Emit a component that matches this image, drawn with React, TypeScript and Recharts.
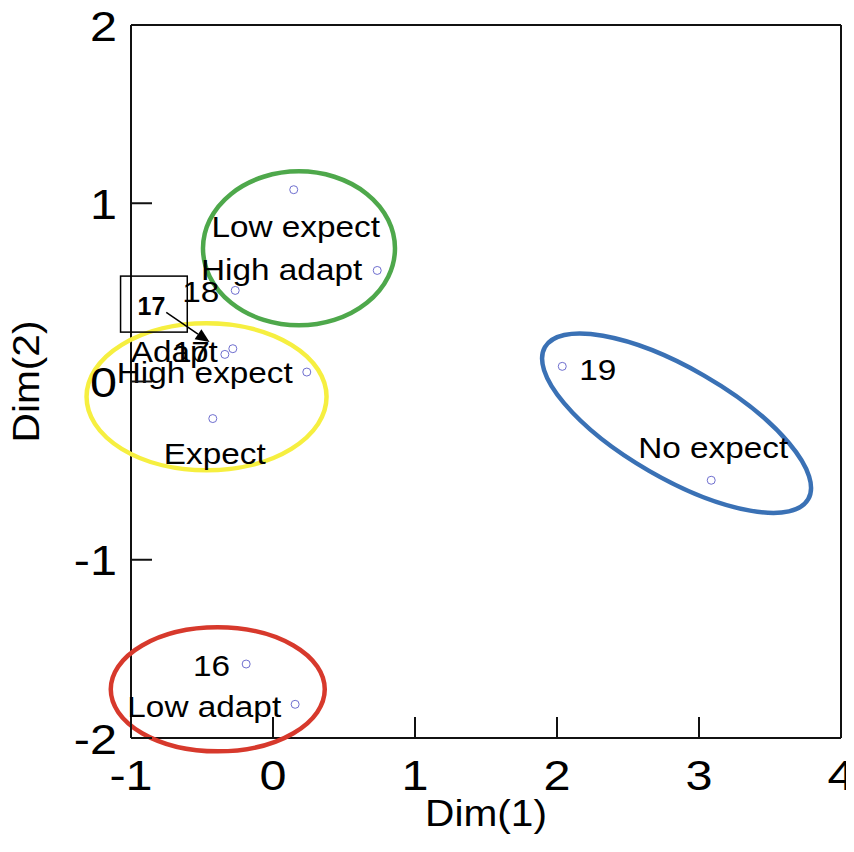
import { Label, ReferenceLine, Scatter, ScatterChart, XAxis, YAxis } from "recharts"

// points of the map
const pointNames = ["Low expect", "High adapt", "18", "Adapt", "17", "High expect", "Expect", "19", "No expect", "16", "Low adapt"]
const dim1 = [0.146, 0.734, -0.266, -0.283, -0.339, 0.238, -0.424, 2.037, 3.086, -0.189, 0.156]
const dim2 = [1.076, 0.623, 0.511, 0.184, 0.152, 0.053, -0.208, 0.085, -0.554, -1.585, -1.811]

// cluster ellipse centres
const groupNames = ["green", "yellow", "red", "blue"]
const groupDim1 = [0.183, -0.468, -0.389, 2.842]
const groupDim2 = [0.747, -0.086, -1.727, -0.234]

const xTicks = [-1, 0, 1, 2, 3, 4]
const yTicks = [-2, -1, 0, 1, 2]

const points = pointNames.map((name, i) => ({ name, x: dim1[i], y: dim2[i] }))
const groups = groupNames.map((name, i) => ({ name, x: groupDim1[i], y: groupDim2[i] }))

const FONT = "'Liberation Sans', Arial, sans-serif"
const STRETCH = 1.13

const labelStyle: Record<string, { anchor: "start" | "middle" | "end"; dx: number; dy: number }> = {
  "Low expect": { anchor: "middle", dx: 2, dy: 47 },
  "High adapt": { anchor: "end", dx: -15, dy: 10 },
  "18": { anchor: "end", dx: -16, dy: 12 },
  Adapt: { anchor: "end", dx: -15, dy: 13 },
  "17": { anchor: "end", dx: -15, dy: 8 },
  "High expect": { anchor: "end", dx: -14, dy: 11 },
  Expect: { anchor: "middle", dx: 2, dy: 45 },
  "19": { anchor: "start", dx: 17, dy: 14 },
  "No expect": { anchor: "middle", dx: 2, dy: -22 },
  "16": { anchor: "end", dx: -16, dy: 12 },
  "Low adapt": { anchor: "end", dx: -14, dy: 13 },
}

const ellipseStyle: Record<string, { rx: number; ry: number; angle: number; color: string }> = {
  green: { rx: 96, ry: 77, angle: 0, color: "#4ea84b" },
  yellow: { rx: 120, ry: 73.5, angle: 0, color: "#f6ef40" },
  red: { rx: 107, ry: 62, angle: 0, color: "#d7392c" },
  blue: { rx: 152, ry: 55, angle: 30, color: "#3a71b5" },
}

function Stretched({ x, y, size, anchor = "middle", bold = false, rotate = 0, children }: any) {
  return (
    <text
      transform={`translate(${x},${y}) rotate(${rotate}) scale(${STRETCH},1)`}
      x={0}
      y={0}
      fontSize={size}
      fontFamily={FONT}
      fontWeight={bold ? "bold" : "normal"}
      textAnchor={anchor}
      fill="#000"
    >
      {children}
    </text>
  )
}

const renderEllipse = (props: any) => {
  const { cx, cy, payload } = props
  const st = ellipseStyle[payload.name]
  return (
    <ellipse
      cx={cx}
      cy={cy}
      rx={st.rx}
      ry={st.ry}
      transform={`rotate(${st.angle},${cx},${cy})`}
      fill="none"
      stroke={st.color}
      strokeWidth={4.5}
    />
  )
}

// boxed "17" with arrow pointing at the crowded spot
function Callout({ cx, cy }: { cx: number; cy: number }) {
  const x1 = cx - 58.6
  const y1 = cy - 42
  const x2 = cx - 15.3
  const y2 = cy - 12.3
  const a = Math.atan2(y2 - y1, x2 - x1)
  const len = 14
  const half = 6
  const bx = x2 - len * Math.cos(a)
  const by = y2 - len * Math.sin(a)
  const head = `${x2},${y2} ${bx + half * Math.sin(a)},${by - half * Math.cos(a)} ${bx - half * Math.sin(a)},${by + half * Math.cos(a)}`
  return (
    <g>
      <rect x={cx - 104.3} y={cy - 78.3} width={66.7} height={56} fill="none" stroke="#000" strokeWidth={1.5} />
      <text x={cx - 87.3} y={cy - 39} fontSize={25} fontWeight="bold" fontFamily={FONT} fill="#000">
        17
      </text>
      <line x1={x1} y1={y1} x2={bx} y2={by} stroke="#000" strokeWidth={1.5} />
      <polygon points={head} fill="#000" />
    </g>
  )
}

const renderPoint = (props: any) => {
  const { cx, cy, payload } = props
  const st = labelStyle[payload.name]
  return (
    <g>
      <circle cx={cx} cy={cy} r={4} fill="none" stroke="#6f6fcf" strokeWidth={1} />
      <Stretched x={cx + st.dx} y={cy + st.dy} size={29.5} anchor={st.anchor}>
        {payload.name}
      </Stretched>
      {payload.name === "17" && <Callout cx={cx} cy={cy} />}
    </g>
  )
}

const XTick = (props: any) => {
  const { x, y, payload } = props
  return (
    <g>
      <line x1={x} y1={y} x2={x} y2={y - 21} stroke="#111" strokeWidth={2} />
      <Stretched x={x} y={y + 52} size={43}>
        {payload.value}
      </Stretched>
    </g>
  )
}

const YTick = (props: any) => {
  const { x, y, payload } = props
  return (
    <g>
      <line x1={x} y1={y} x2={x + 21} y2={y} stroke="#111" strokeWidth={2} />
      <Stretched x={x - 14} y={y + 15.5} size={43} anchor="end">
        {payload.value}
      </Stretched>
    </g>
  )
}

export default function App() {
  return (
    <div style={{ width: 846, height: 836, background: "#fff" }}>
      <style>{".recharts-surface{overflow:visible}"}</style>
      <ScatterChart width={846} height={836} margin={{ top: 17, right: 13, bottom: 0, left: 0 }}>
        <XAxis
          type="number"
          dataKey="x"
          domain={[-1, 4]}
          ticks={xTicks}
          height={106}
          tickSize={0}
          tickMargin={0}
          tick={<XTick />}
          axisLine={{ stroke: "#111", strokeWidth: 2 }}
        >
          <Label
            content={(p: any) => {
              const vb = p.viewBox
              return (
                <Stretched x={vb.x + vb.width / 2} y={vb.y + 88} size={36}>
                  Dim(1)
                </Stretched>
              )
            }}
          />
        </XAxis>
        <YAxis
          type="number"
          dataKey="y"
          domain={[-2, 2]}
          ticks={yTicks}
          width={123}
          tickSize={0}
          tickMargin={0}
          tick={<YTick />}
          axisLine={{ stroke: "#111", strokeWidth: 2 }}
        >
          <Label
            content={(p: any) => {
              const vb = p.viewBox
              return (
                <Stretched x={vb.x + 31} y={vb.y + vb.height / 2} size={36} rotate={-90}>
                  Dim(2)
                </Stretched>
              )
            }}
          />
        </YAxis>
        <ReferenceLine y={2} stroke="#111" strokeWidth={2} />
        <ReferenceLine x={4} stroke="#111" strokeWidth={2} />
        <Scatter data={groups} shape={renderEllipse} isAnimationActive={false} />
        <Scatter data={points} shape={renderPoint} isAnimationActive={false} />
      </ScatterChart>
    </div>
  )
}
